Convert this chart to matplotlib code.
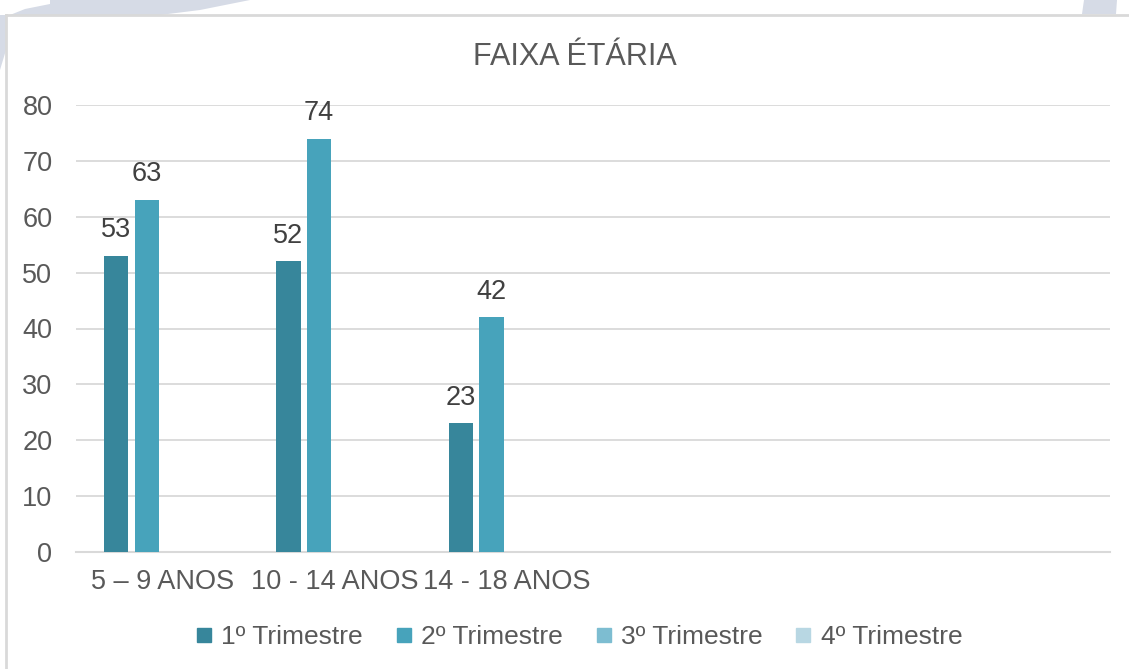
import matplotlib
matplotlib.use("Agg")
import matplotlib.pyplot as plt
from matplotlib.patches import Polygon
from matplotlib.lines import Line2D
import numpy as np

plt.rcParams['font.family'] = ['Liberation Sans', 'DejaVu Sans']

categories = ["5 – 9 ANOS", "10 - 14 ANOS", "14 - 18 ANOS", "", "", ""]
series_names = ["1º Trimestre", "2º Trimestre", "3º Trimestre", "4º Trimestre"]
s1 = [53, 52, 23, None, None, None]
s2 = [63, 74, 42, None, None, None]
s3 = [None, None, None, None, None, None]
s4 = [None, None, None, None, None, None]
series = [s1, s2, s3, s4]
colors = ["#37869B", "#47A3BB", "#7DBDD1", "#B8D7E3"]
yticks = [0, 10, 20, 30, 40, 50, 60, 70, 80]

W, H = 1129, 669
fig = plt.figure(figsize=(W/100, H/100), dpi=100)
fig.patch.set_facecolor("white")

# decorative background shapes
def fpoly(pts, color):
    p = Polygon([(x/W, 1-y/H) for x, y in pts], closed=True, transform=fig.transFigure,
                facecolor=color, edgecolor='none', zorder=0)
    fig.add_artist(p)

bg = "#D6DBE6"
fpoly([(0, 22), (10, 15), (0, 15)], bg)
fpoly([(10, 15), (25, 9), (50, 4), (50, 0), (250, 0), (200, 10), (160, 15)], bg)
fpoly([(0, 15), (6, 15), (6, 50), (0, 70)], bg)
fpoly([(1084, 0), (1117, 0), (1116, 14), (1082, 14)], bg)

# border lines
fig.add_artist(Line2D([6/W, 6/W], [0, 1-15/H], transform=fig.transFigure, color="#D9D9D9", lw=2))
fig.add_artist(Line2D([6/W, 1], [1-15/H, 1-15/H], transform=fig.transFigure, color="#D9D9D9", lw=2))

ax = fig.add_axes([76/W, 1-552/H, (1110-76)/W, (552-105)/H])
ax.set_facecolor("none")
x = np.arange(len(categories))
step = 30.5/171.5
bw = 24/171.5
for i, (vals, c, name) in enumerate(zip(series, colors, series_names)):
    xs = [xi + (i-1.5)*step for xi, v in zip(x, vals) if v is not None]
    vs = [v for v in vals if v is not None]
    ax.bar(xs, vs, width=bw, color=c, label=name, zorder=3)
    for xb, v in zip(xs, vs):
        ax.annotate(str(v), (xb, v), xytext=(0, 9), textcoords="offset points",
                    ha="center", va="bottom", fontsize=19.5, color="#404040")

ax.set_xlim(-0.5, len(categories)-0.5)
ax.set_ylim(0, 80)
ax.set_yticks(yticks)
ax.set_xticks(x)
ax.set_xticklabels(categories)
ax.grid(axis='y', color="#D9D9D9", lw=1.3, zorder=0)
for s in ["top", "right", "left"]:
    ax.spines[s].set_visible(False)
ax.spines["bottom"].set_color("#D9D9D9")
ax.spines["bottom"].set_linewidth(1.5)
ax.tick_params(axis='both', length=0, labelsize=19.5, labelcolor="#595959")
ax.tick_params(axis='y', pad=17)
ax.tick_params(axis='x', pad=12)

fig.text(575/W, 1-57/H, "FAIXA ÉTÁRIA", ha="center", va="center", fontsize=22, color="#595959")

handles = [plt.Line2D([], [], marker='s', linestyle='none', markersize=10, color=c) for c in colors]
fig.legend(handles, series_names, loc="center", bbox_to_anchor=(578/W, 1-637/H), ncol=4,
           frameon=False, fontsize=19, labelcolor="#595959", handletextpad=0.25,
           columnspacing=1.15, handlelength=0.8)

fig.savefig("out.png", dpi=100)
